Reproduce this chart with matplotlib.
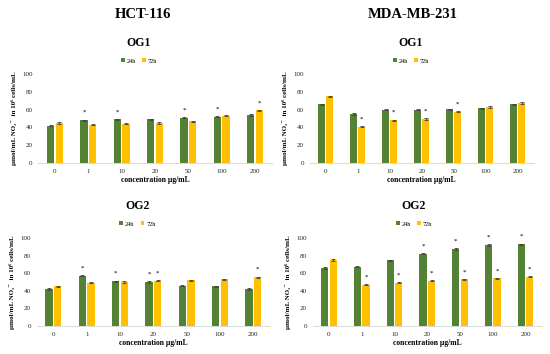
import numpy as np
import matplotlib
matplotlib.use("Agg")
import matplotlib.pyplot as plt

plt.rcParams['font.family'] = ['Liberation Serif', 'DejaVu Serif']

conc = ['0', '1', '10', '20', '50', '100', '200']

# HCT-116
hct_og1_24 = [42, 48, 49, 49, 51, 52, 54]
hct_og1_72 = [45, 43, 44, 45, 47, 53, 59]
hct_og1_star24 = [0, 1, 1, 0, 1, 1, 0]
hct_og1_star72 = [0, 0, 0, 0, 0, 0, 1]

hct_og2_24 = [42, 57, 51, 50, 46, 45, 42]
hct_og2_72 = [45, 49, 50, 51.5, 52, 53, 55.5]
hct_og2_star24 = [0, 1, 1, 1, 0, 0, 0]
hct_og2_star72 = [0, 0, 0, 1, 0, 0, 1]

# MDA-MB-231
mda_og1_24 = [66, 55, 60, 60, 60.5, 61.5, 66]
mda_og1_72 = [75, 41, 48, 49.5, 57.5, 63, 67.5]
mda_og1_star24 = [0, 0, 0, 0, 0, 0, 0]
mda_og1_star72 = [0, 1, 1, 1, 1, 0, 0]

mda_og2_24 = [66, 67.5, 74.5, 82, 87.5, 92, 93]
mda_og2_72 = [75, 47, 49, 51.5, 53, 54, 56]
mda_og2_star24 = [0, 0, 0, 1, 1, 1, 1]
mda_og2_star72 = [0, 1, 1, 1, 1, 1, 1]

green = '#548235'
yellow = '#FFC000'

fig = plt.figure(figsize=(5.5, 3.54), dpi=100)

def px(x, y):
    # pixel position -> figure fraction
    return x / 550, 1 - y / 354

def panel(rect, v24, v72, s24, s72, title, tx, ty):
    ax = fig.add_axes(rect)
    x = np.arange(len(conc))
    w = 0.22
    off = 0.13
    ekw = dict(ecolor='#404040', elinewidth=0.6, capthick=0.6)
    b1 = ax.bar(x - off, v24, w, color=green, yerr=0.7, capsize=1.3, error_kw=ekw)
    b2 = ax.bar(x + off, v72, w, color=yellow, yerr=0.7, capsize=1.3, error_kw=ekw)
    for i in range(len(conc)):
        if s24[i]:
            ax.text(x[i] - off, v24[i] + 7, '*', ha='center', va='baseline', fontsize=5)
        if s72[i]:
            ax.text(x[i] + off, v72[i] + 7, '*', ha='center', va='baseline', fontsize=5)
    ax.set_xlim(-0.5, len(conc) - 0.5)
    ax.set_ylim(0, 100)
    ax.set_yticks([0, 20, 40, 60, 80, 100])
    ax.set_xticks(x)
    ax.set_xticklabels(conc)
    ax.tick_params(length=0, labelsize=5, colors='#262626', pad=4)
    for s in ['top', 'right', 'left']:
        ax.spines[s].set_visible(False)
    ax.spines['bottom'].set_color('#D9D9D9')
    ax.spines['bottom'].set_linewidth(0.7)
    ax.set_xlabel('concentration µg/mL', fontsize=5.5, fontweight='bold', labelpad=2)
    ax.set_ylabel('µmol/mL NO₂⁻  in 10⁶ cells/mL', fontsize=5, fontweight='bold', labelpad=4)
    fig.text(*px(tx, ty), title, ha='center', va='center', fontsize=8.5, fontweight='bold')
    fig.legend([b1, b2], ['24h', '72h'], loc='center', bbox_to_anchor=px(tx, ty + 18),
               ncol=2, frameon=False, fontsize=4.5, handlelength=0.6, handleheight=0.6,
               handletextpad=0.3, columnspacing=1.0)
    return ax

panel([38.3 / 550, 191 / 354, 233.3 / 550, 89 / 354], hct_og1_24, hct_og1_72,
      hct_og1_star24, hct_og1_star72, 'OG1', 139, 43)
panel([309.7 / 550, 191 / 354, 224 / 550, 89 / 354], mda_og1_24, mda_og1_72,
      mda_og1_star24, mda_og1_star72, 'OG1', 411, 43)
panel([36.7 / 550, 28 / 354, 233.3 / 550, 88 / 354], hct_og2_24, hct_og2_72,
      hct_og2_star24, hct_og2_star72, 'OG2', 137.5, 206)
panel([312.6 / 550, 28 / 354, 229.4 / 550, 88 / 354], mda_og2_24, mda_og2_72,
      mda_og2_star24, mda_og2_star72, 'OG2', 414, 206)

fig.text(*px(143, 14), 'HCT-116', ha='center', va='center', fontsize=10.5, fontweight='bold')
fig.text(*px(413, 14), 'MDA-MB-231', ha='center', va='center', fontsize=10.5, fontweight='bold')

fig.savefig('out.png', dpi=100)
